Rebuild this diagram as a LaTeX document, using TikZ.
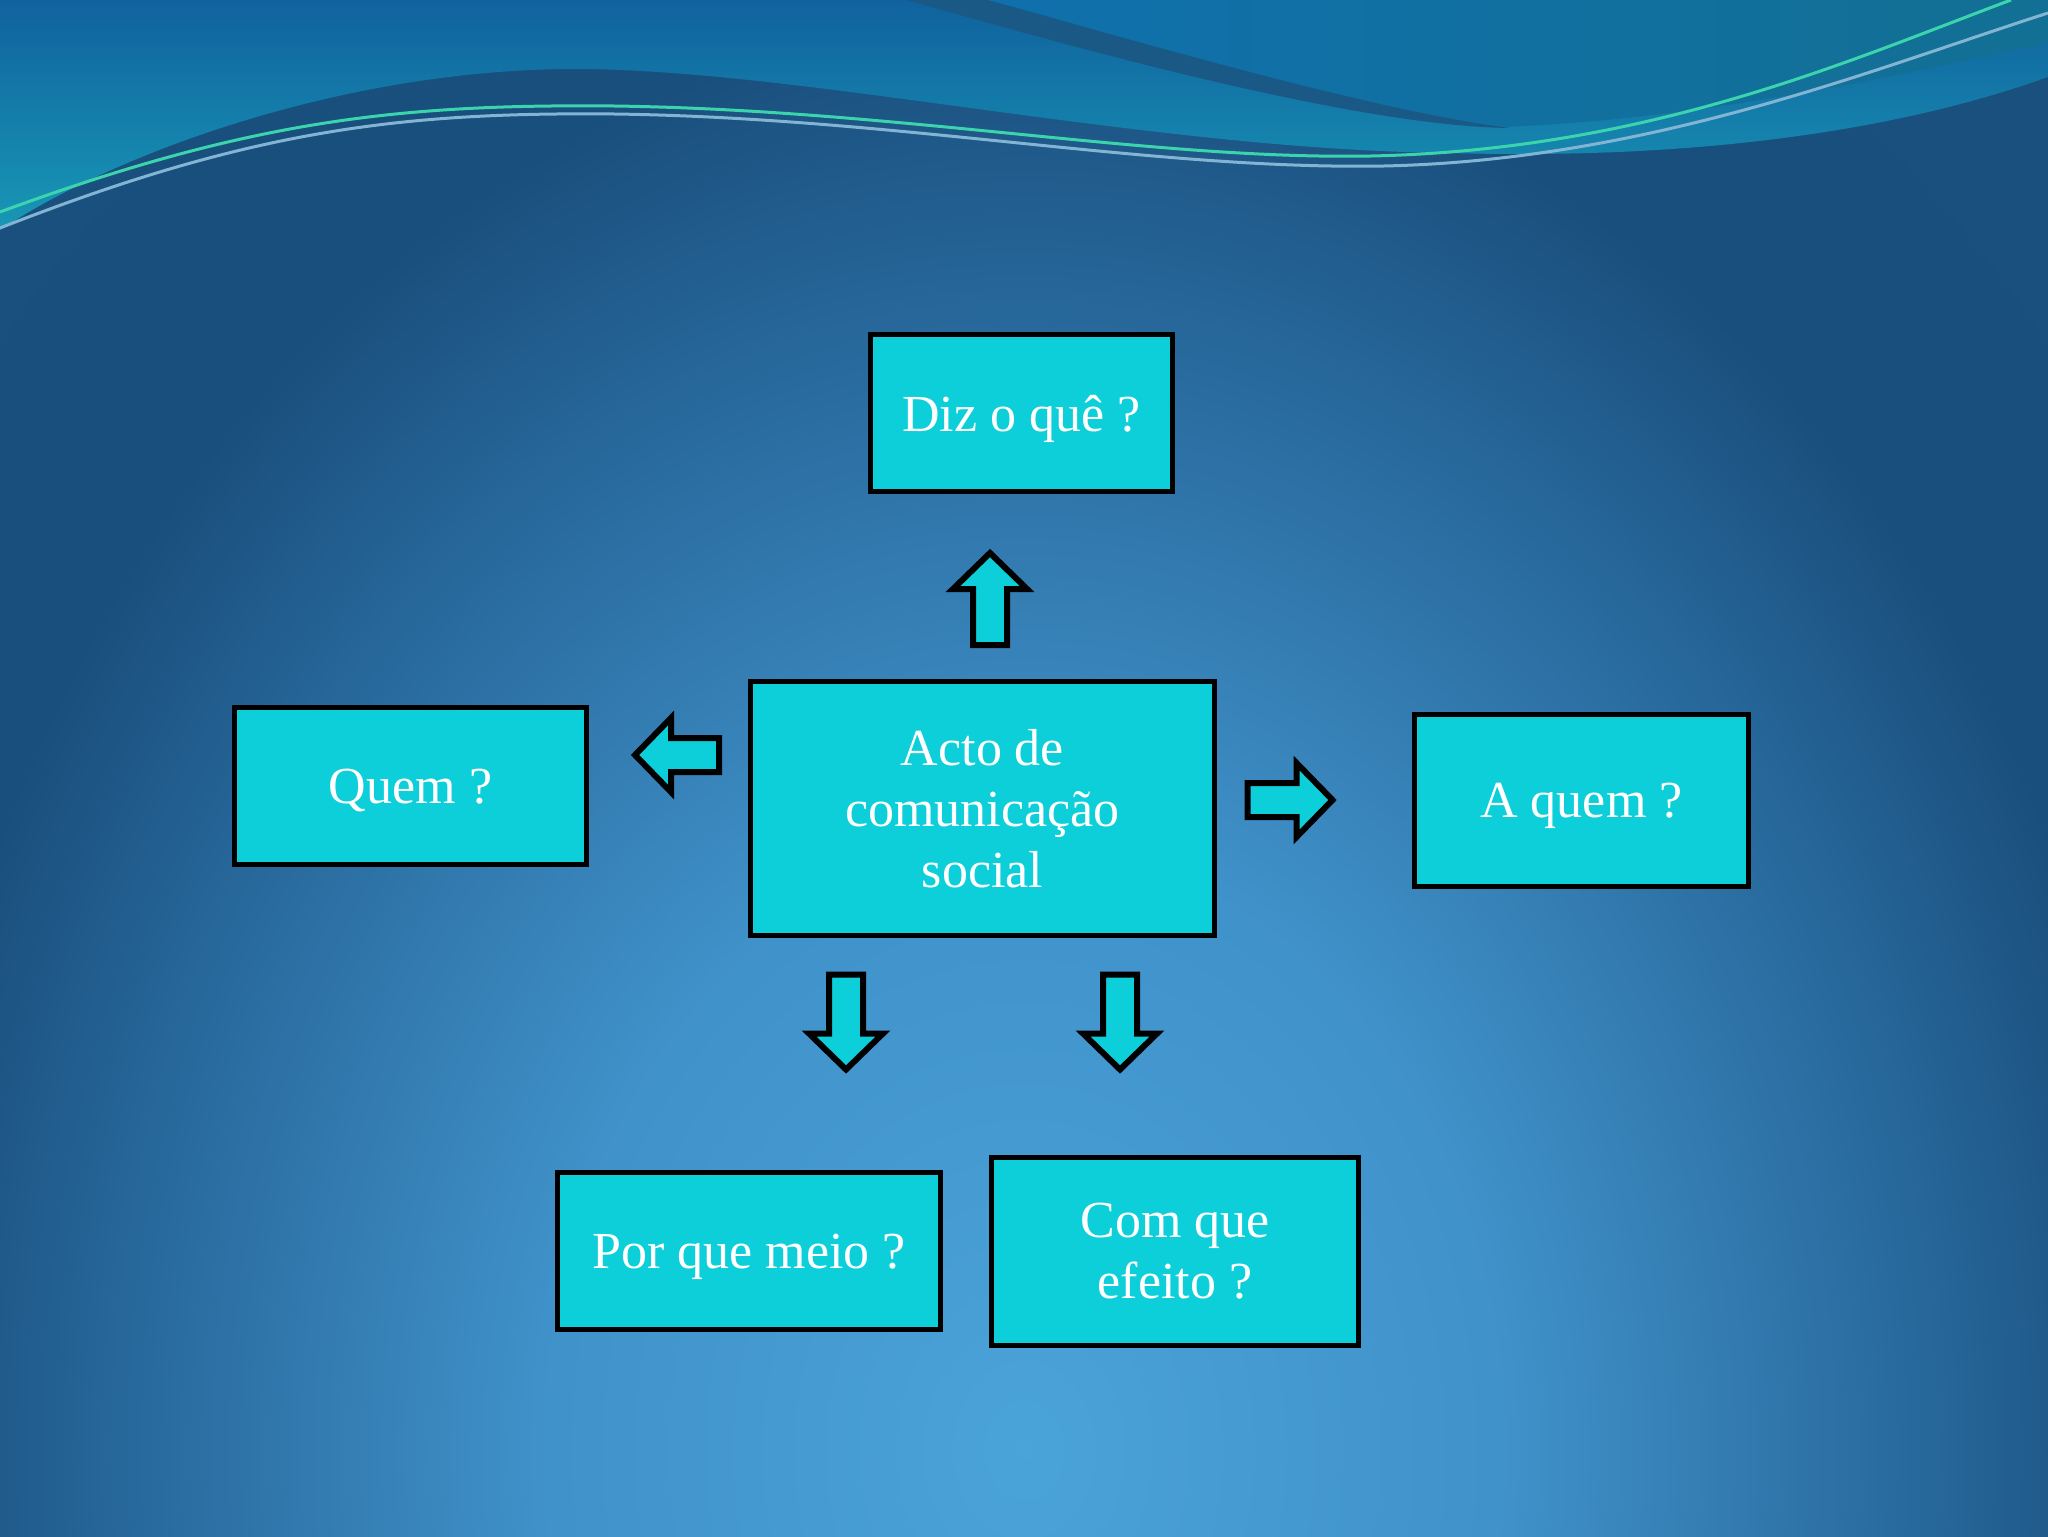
\documentclass[tikz,border=0pt]{standalone}
\usepackage{fontspec}
\setmainfont{Liberation Serif}
\usepackage{tikz}

\definecolor{boxcyan}{RGB}{13,207,218}
\definecolor{bgdark}{RGB}{26,80,126}
\definecolor{wavetop}{RGB}{16,98,158}
\definecolor{waveteal}{RGB}{24,152,182}
\definecolor{waveblue}{RGB}{16,112,172}
\definecolor{waveright}{RGB}{18,112,148}
\definecolor{stripe}{RGB}{26,88,134}
\definecolor{linegreen}{RGB}{60,212,172}
\definecolor{linepale}{RGB}{130,180,212}

\pgfdeclareradialshading{bgglow}{\pgfpoint{0bp}{0bp}}{%
  rgb(0bp)=(0.29,0.64,0.85);
  rgb(9bp)=(0.25,0.57,0.79);
  rgb(17bp)=(0.15,0.40,0.60);
  rgb(21bp)=(0.10,0.31,0.49);
  rgb(50bp)=(0.10,0.31,0.49)}

\tikzset{
  box/.style={draw=black,line width=2.5pt,fill=boxcyan,text=white,
    font=\fontsize{26}{30.5}\selectfont,align=center,inner sep=0pt},
  singleline/.style={text depth=0pt},
  arrowshape/.style={draw=black,fill=boxcyan,line width=3pt,line join=miter}
}

% block arrow: centre x, centre y, angle, length
\newcommand{\blockarrow}[4]{%
  \begin{scope}[shift={(#1,#2)},rotate=#3]
    \path[arrowshape] (-#4/2,-17) -- (#4/2-36,-17) -- (#4/2-36,-37) -- (#4/2,0)
      -- (#4/2-36,37) -- (#4/2-36,17) -- (-#4/2,17) -- cycle;
  \end{scope}}

\begin{document}
\begin{tikzpicture}[x=0.5pt,y=-0.5pt]
\useasboundingbox (0,0) rectangle (2048,1536);
% background:
\fill[bgdark] (0,0) rectangle (2048,1536);
\begin{scope}
  \clip (0,0) rectangle (2048,1536);
  \shade[shading=bgglow] (1024,1450) ellipse (1350 and 1700);
\end{scope}
% waves at the top:
\shade[top color=wavetop,bottom color=waveteal] (0,0) -- (2048,0) -- (2048,77)
  .. controls (1900,130) and (1700,160) .. (1450,153)
  .. controls (1150,150) and (800,69) .. (575,69)
  .. controls (350,69) and (120,150) .. (0,230) -- cycle;
\shade[left color=waveblue,right color=waveright] (987,0)
  .. controls (1150,40) and (1370,125) .. (1500,127)
  .. controls (1700,120) and (1900,75) .. (2048,43) -- (2048,0) -- cycle;
\fill[stripe] (907,0) .. controls (1100,55) and (1360,126) .. (1510,128)
  .. controls (1380,112) and (1150,45) .. (987,0) -- cycle;
\draw[linepale,line width=1.5pt] (0,228) .. controls (250,130) and (400,112) .. (614,114)
  .. controls (900,118) and (1150,170) .. (1384,166)
  .. controls (1650,160) and (1870,70) .. (2048,13);
\draw[linegreen,line width=1.5pt] (0,212) .. controls (250,120) and (400,104) .. (614,106)
  .. controls (900,110) and (1150,160) .. (1371,156)
  .. controls (1650,150) and (1850,60) .. (2011,0);
% boxes:
\node[box,singleline,minimum width=151pt,minimum height=78.5pt] (diz) at (1021.5,413) {Diz o quê ?};
\node[box,minimum width=232pt,minimum height=127pt] (acto) at (982.5,808.5) {Acto de\\comunicação\\social};
\node[box,singleline,minimum width=176pt,minimum height=78.5pt] (quem) at (410.5,786) {Quem ?};
\node[box,singleline,minimum width=167pt,minimum height=86pt] (aquem) at (1581.5,800.5) {A quem ?};
\node[box,singleline,minimum width=191.5pt,minimum height=78.5pt] (meio) at (749,1251) {Por que meio ?};
\node[box,minimum width=183.5pt,minimum height=94pt] (efeito) at (1175,1251.5) {Com que\\efeito ?};
% arrows:
\blockarrow{990}{599}{90}{92}
\blockarrow{677}{755}{180}{84}
\blockarrow{1290}{800}{0}{85}
\blockarrow{846}{1022}{-90}{95}
\blockarrow{1120}{1022}{-90}{95}
\end{tikzpicture}
\end{document}
